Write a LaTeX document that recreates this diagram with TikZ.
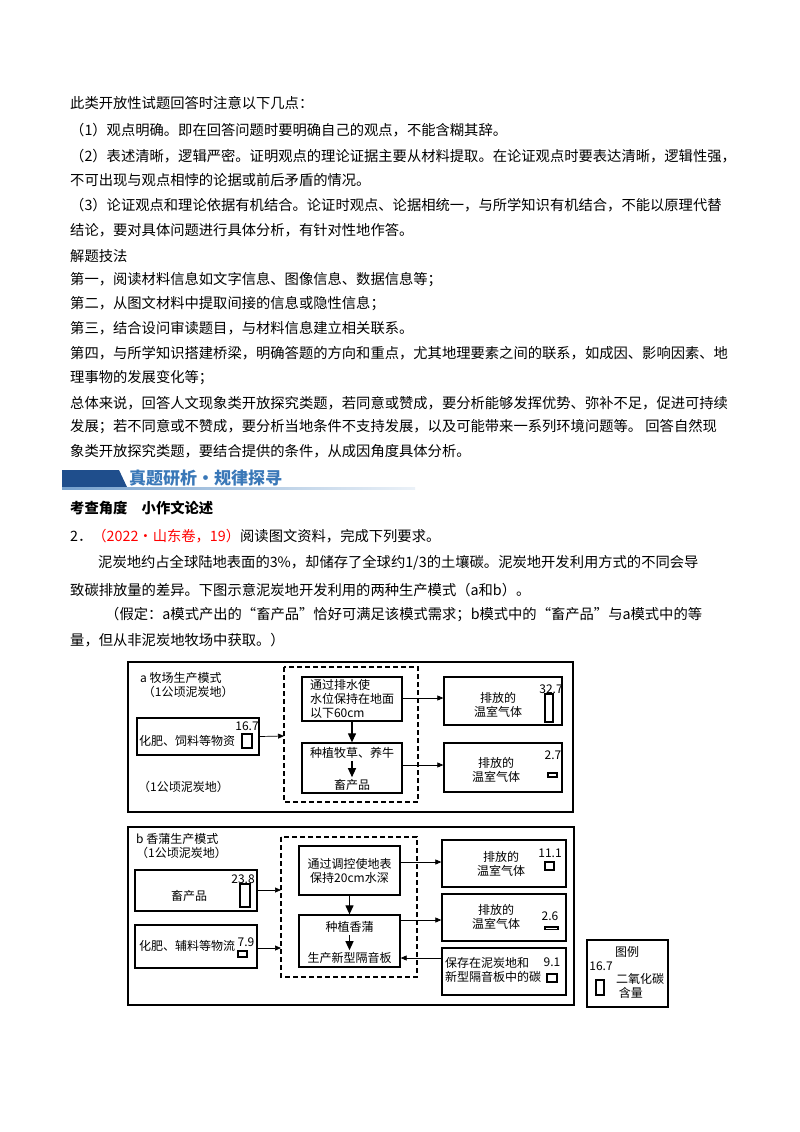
\documentclass[tikz,border=0pt]{standalone}
\usepackage{fontspec}
\setmainfont{Noto Sans CJK SC}
\usetikzlibrary{arrows.meta}
\definecolor{hb}{HTML}{1F4E8C}
\definecolor{hl}{HTML}{3A78B8}
\begin{document}
\begin{tikzpicture}[x=1pt,y=-1pt,
  body/.style={anchor=west,inner sep=0pt,font=\fontsize{14.3}{16}\selectfont},
  dg/.style={inner sep=0pt,font=\fontsize{12}{14}\selectfont,align=center},
  bx/.style={draw,line width=1.3pt},
  dbox/.style={dash pattern=on 5pt off 3pt,line width=1.1pt},
  arr/.style={-{Triangle[length=6pt,width=5pt]},line width=0.7pt},
  darr/.style={-{Triangle[length=9pt,width=8pt]},line width=1.2pt},
  bar/.style={draw,line width=1.1pt}]
\useasboundingbox (0,0) rectangle (800,1132);
\fill[white] (0,0) rectangle (800,1132);
\node[body] (t1) at (70,103) {此类开放性试题回答时注意以下几点：};
\node[body] (t2) at (70,130) {（1）观点明确。即在回答问题时要明确自己的观点，不能含糊其辞。};
\node[body] (t3) at (70,156) {（2）表述清晰，逻辑严密。证明观点的理论证据主要从材料提取。在论证观点时要表达清晰，逻辑性强，};
\node[body] (t4) at (70,180) {不可出现与观点相悖的论据或前后矛盾的情况。};
\node[body] (t5) at (70,205) {（3）论证观点和理论依据有机结合。论证时观点、论据相统一，与所学知识有机结合，不能以原理代替};
\node[body] (t6) at (70,230) {结论，要对具体问题进行具体分析，有针对性地作答。};
\node[body] (t7) at (70,256) {解题技法};
\node[body] (t8) at (70,280) {第一，阅读材料信息如文字信息、图像信息、数据信息等；};
\node[body] (t9) at (70,304) {第二，从图文材料中提取间接的信息或隐性信息；};
\node[body] (t10) at (70,328) {第三，结合设问审读题目，与材料信息建立相关联系。};
\node[body] (t11) at (70,353) {第四，与所学知识搭建桥梁，明确答题的方向和重点，尤其地理要素之间的联系，如成因、影响因素、地};
\node[body] (t12) at (70,378) {理事物的发展变化等；};
\node[body] (t13) at (70,403) {总体来说，回答人文现象类开放探究类题，若同意或赞成，要分析能够发挥优势、弥补不足，促进可持续};
\node[body] (t14) at (70,427) {发展；若不同意或不赞成，要分析当地条件不支持发展，以及可能带来一系列环境问题等。 回答自然现};
\node[body] (t15) at (70,451) {象类开放探究类题，要结合提供的条件，从成因角度具体分析。};
% heading
\fill[hb] (62,470) -- (119,470) -- (127,487) -- (62,487) -- cycle;
\shade[left color=hl!70, right color=hl!10] (62,487) rectangle (415,489);
\node[anchor=west,inner sep=0pt,text=hl,font=\fontsize{17}{20}\selectfont\bfseries] (hd) at (129,478) {真题研析·规律探寻};
\node[body,font=\fontsize{14.3}{16}\selectfont\bfseries] (q) at (70,508) {考查角度\quad 小作文论述};
\node[body] (q2) at (70,536) {2．\textcolor{red}{（2022·山东卷，19）}阅读图文资料，完成下列要求。};
\node[body] (p1) at (98,563) {泥炭地约占全球陆地表面的3\%，却储存了全球约1/3的土壤碳。泥炭地开发利用方式的不同会导};
\node[body] (p2) at (70,590) {致碳排放量的差异。下图示意泥炭地开发利用的两种生产模式（a和b）。};
\node[body] (p3) at (105,615) {（假定：a模式产出的“畜产品”恰好可满足该模式需求；b模式中的“畜产品”与a模式中的等};
\node[body] (p4) at (70,640) {量，但从非泥炭地牧场中获取。）};
% ---------- diagram a
\draw[line width=1.1pt] (128,662) rectangle (573,812);
\node[dg,anchor=north west,align=left] (at) at (140,672) {a 牧场生产模式\\\ （1公顷泥炭地）};
\node[dg,anchor=west] (ab) at (138,787) {（1公顷泥炭地）};
\node[bx,minimum width=122pt,minimum height=37pt] (ain) at (198,736.5) {};
\node[dg,anchor=west] at (139,741) {化肥、饲料等物资};
\node[dg] at (247,726) {16.7};
\draw[bar] (242,734) rectangle (252,748);
\draw[dbox] (284,667) rectangle (418,802);
\node[coordinate] (dal) at (284,736) {};
\node[bx,minimum width=100pt,minimum height=44pt] (a1) at (352,699) {};
\node[dg,align=left] at (352,699) {通过排水使\\水位保持在地面\\以下60cm};
\node[bx,minimum width=100pt,minimum height=50pt] (a2) at (352,768) {};
\node[dg] (a2t) at (352,753) {种植牧草、养牛};
\node[dg] (a2b) at (352,785) {畜产品};
\draw[darr] (a1.south) -- (a2.north);
\draw[darr] ([yshift=-2pt]a2t.south) -- ([yshift=2pt]a2b.north);
\draw[arr] (ain.east) -- (dal);
\node[bx,minimum width=118pt,minimum height=48pt] (ar1) at (503,701) {};
\node[bx,minimum width=118pt,minimum height=49pt] (ar2) at (503,767.5) {};
\node[dg] at (498,705) {排放的\\温室气体};
\node[dg] at (496,770) {排放的\\温室气体};
\node[dg] at (551,689) {32.7};
\draw[bar] (545,694) rectangle (553,722);
\node[dg] at (553,755) {2.7};
\draw[bar] (548,773) rectangle (557,777);
\draw[arr] (a1.east |- 0,698) -- (ar1.west |- 0,698);
\draw[arr] (a2.east |- 0,765) -- (ar2.west |- 0,765);
% ---------- diagram b
\draw[line width=1.1pt] (128,827) rectangle (574,1005);
\node[dg,anchor=north west,align=left] (bt) at (136,833) {b 香蒲生产模式\\（1公顷泥炭地）};
\node[bx,minimum width=122pt,minimum height=41pt] (b1) at (196,890.5) {};
\node[dg] at (189,896) {畜产品};
\node[dg] at (243,879) {23.8};
\draw[bar] (240,884) rectangle (250,907);
\node[bx,minimum width=122pt,minimum height=43pt] (b2) at (196,946.5) {};
\node[dg,anchor=west] at (139,946) {化肥、辅料等物流};
\node[dg] at (246,942) {7.9};
\draw[bar] (238,951) rectangle (247,957);
\draw[dbox] (281,837) rectangle (417,977);
\node[coordinate] (db1) at (281,890) {};
\node[coordinate] (db2) at (281,948) {};
\draw[arr] (b1.east |- db1) -- (db1);
\draw[arr] (b2.east |- db2) -- (db2);
\node[bx,minimum width=101pt,minimum height=49pt] (c1) at (349.5,870.5) {};
\node[dg] at (349.5,871) {通过调控使地表\\保持20cm水深};
\node[bx,minimum width=101pt,minimum height=52pt] (c2) at (349.5,941) {};
\node[dg] (c2t) at (349.5,927) {种植香蒲};
\node[dg] (c2b) at (349.5,958) {生产新型隔音板};
\draw[darr] (c1.south) -- (c2.north);
\draw[darr] ([yshift=-2pt]c2t.south) -- ([yshift=2pt]c2b.north);
\node[bx,minimum width=124pt,minimum height=47pt] (r1) at (504,863.5) {};
\node[bx,minimum width=124pt,minimum height=47pt] (r2) at (504,917.5) {};
\node[bx,minimum width=124pt,minimum height=47pt] (r3) at (504,971.5) {};
\node[dg] at (501,864) {排放的\\温室气体};
\node[dg] at (496,917) {排放的\\温室气体};
\node[dg,align=left,anchor=west] at (445,970) {保存在泥炭地和\\新型隔音板中的碳};
\node[dg] at (550,853) {11.1};
\draw[bar] (545,862) rectangle (554,870);
\node[dg] at (550,916) {2.6};
\draw[bar] (545,927) rectangle (558,929.5);
\node[dg] at (552,962) {9.1};
\draw[bar] (547,974) rectangle (557,982);
\draw[arr] (c1.east |- 0,862) -- (r1.west |- 0,862);
\draw[arr] (c2.east |- 0,920) -- (r2.west |- 0,920);
\draw[arr] (r3.west |- 0,958) -- (c2.east |- 0,958);
% legend
\node[draw,line width=1.1pt,minimum width=81pt,minimum height=67pt] (lg) at (627.5,973.5) {};
\node[dg] at (627,952) {图例};
\node[dg] at (601,966) {16.7};
\draw[bar] (596,980) rectangle (604,995);
\node[dg,align=left,anchor=west] at (616,986) {二氧化碳\\\ 含量};
\end{tikzpicture}
\end{document}
